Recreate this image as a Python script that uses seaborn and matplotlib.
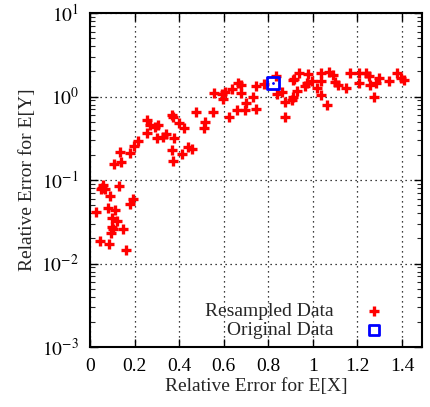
import matplotlib
matplotlib.use("Agg")
import matplotlib.pyplot as plt
import seaborn as sns
import pandas as pd
import numpy as np
from matplotlib.ticker import LogLocator, NullFormatter, FixedLocator

sns.set_style("ticks")
plt.rcParams['font.family'] = ['Liberation Serif', 'DejaVu Serif']
plt.rcParams['mathtext.fontset'] = 'stix'

# Resampled data: relative error for E[X] and E[Y]
resampled_x = [0.027, 0.045, 0.058, 0.054, 0.067, 0.049, 0.090, 0.130, 0.081, 0.112,
               0.099, 0.121, 0.099, 0.103, 0.094, 0.148, 0.085, 0.162, 0.180, 0.193,
               0.135, 0.180, 0.108, 0.139, 0.198, 0.216, 0.256, 0.256, 0.270, 0.292,
               0.305, 0.301, 0.328, 0.341, 0.368, 0.373, 0.377, 0.368, 0.373, 0.400,
               0.422, 0.413, 0.440, 0.458, 0.476, 0.517, 0.512, 0.553, 0.557, 0.593,
               0.597, 0.606, 0.624, 0.638, 0.660, 0.665, 0.678, 0.678, 0.701, 0.696,
               0.732, 0.746, 0.746, 0.782, 0.836, 0.840, 0.863, 0.876, 0.876, 0.907,
               0.912, 0.912, 0.916, 0.930, 0.939, 0.966, 0.975, 0.979, 0.997, 1.020,
               1.038, 1.038, 1.038, 1.065, 1.074, 1.092, 1.101, 1.114, 1.150, 1.168,
               1.208, 1.208, 1.240, 1.253, 1.258, 1.276, 1.285, 1.298, 1.343, 1.379,
               1.397, 1.411]
resampled_y = [0.041, 0.0186, 0.087, 0.080, 0.078, 0.078, 0.064, 0.085, 0.046, 0.044,
               0.035, 0.032, 0.027, 0.026, 0.023, 0.026, 0.017, 0.0145, 0.052, 0.059,
               0.217, 0.211, 0.156, 0.165, 0.254, 0.291, 0.525, 0.366, 0.457, 0.432,
               0.457, 0.320, 0.329, 0.357, 0.604, 0.571, 0.320, 0.230, 0.170, 0.484,
               0.422, 0.206, 0.249, 0.236, 0.656, 0.498, 0.422, 0.656, 1.107, 1.077,
               0.938, 1.138, 0.571, 1.237, 0.693, 1.46, 1.38, 1.11, 0.84, 0.693,
               0.99, 1.34, 0.71, 1.42, 1.77, 1.08, 1.14, 0.863, 0.571, 0.913,
               0.996, 1.58, 1.63, 1.17, 1.92, 1.34, 1.46, 1.87, 1.54, 1.27,
               1.54, 1.92, 1.05, 0.795, 1.98, 1.82, 1.50, 1.38, 1.27, 1.92,
               1.92, 1.46, 1.92, 1.77, 1.38, 0.99, 1.46, 1.67, 1.54, 1.92,
               1.67, 1.58]
original_x = [0.822]
original_y = [1.45]

x_ticks = [0, 0.2, 0.4, 0.6, 0.8, 1.0, 1.2, 1.4]
x_tick_labels = ["0", "0.2", "0.4", "0.6", "0.8", "1", "1.2", "1.4"]
y_ticks = [1e-3, 1e-2, 1e-1, 1e0, 1e1]
y_tick_labels = [r"$10^{-3}$", r"$10^{-2}$", r"$10^{-1}$", r"$10^{0}$", r"$10^{1}$"]

df_res = pd.DataFrame({"x": resampled_x, "y": resampled_y})
df_org = pd.DataFrame({"x": original_x, "y": original_y})

fig = plt.figure(figsize=(4.30, 4.07), dpi=100)
ax = fig.add_axes([90/430, 1 - 347/407, (422-90)/430, (347-13)/407])

sns.scatterplot(data=df_res, x="x", y="y", ax=ax, marker="+", s=60,
                color="#ff0000", linewidth=2.4, label="Resampled Data", zorder=3)
sns.scatterplot(data=df_org, x="x", y="y", ax=ax, marker="s", s=70,
                facecolor="none", edgecolor="#0000ff", linewidth=2.0,
                label="Original Data", zorder=4)
ax.scatter(original_x, original_y, marker=".", s=4, color="#0000ff", zorder=5)

ax.set_yscale("log")
ax.set_xlim(0, 1.49)
ax.set_ylim(1e-3, 1e1)
ax.xaxis.set_major_locator(FixedLocator(x_ticks))
ax.set_xticklabels(x_tick_labels)
ax.yaxis.set_major_locator(FixedLocator(y_ticks))
ax.set_yticklabels(y_tick_labels)
ax.yaxis.set_minor_locator(LogLocator(base=10, subs=np.arange(2, 10), numticks=20))
ax.yaxis.set_minor_formatter(NullFormatter())

ax.tick_params(axis="both", which="major", direction="in", top=True, right=True,
               length=6, width=1.0, labelsize=14, colors="black", pad=8)
ax.tick_params(axis="y", which="minor", direction="in", left=True, right=True,
               length=3.5, width=0.8)
ax.tick_params(axis="x", which="minor", bottom=False, top=False)

ax.grid(True, which="major", linestyle=(0, (1, 3)), color="black", linewidth=0.9)
for sp in ax.spines.values():
    sp.set_linewidth(1.5)
    sp.set_color("black")

ax.set_xlabel("Relative Error for E[X]", fontsize=14, labelpad=2)
ax.set_ylabel("Relative Error for E[Y]", fontsize=14, labelpad=4)

leg = ax.legend(loc="lower right", bbox_to_anchor=(0.907, 0.0), frameon=False,
                markerfirst=False, fontsize=14, handletextpad=1.56,
                borderaxespad=0.0, labelspacing=0.1, handlelength=1.0)
for h in leg.legend_handles:
    try:
        h.set_sizes([50])
    except Exception:
        pass

fig.savefig("out.png", dpi=100)
